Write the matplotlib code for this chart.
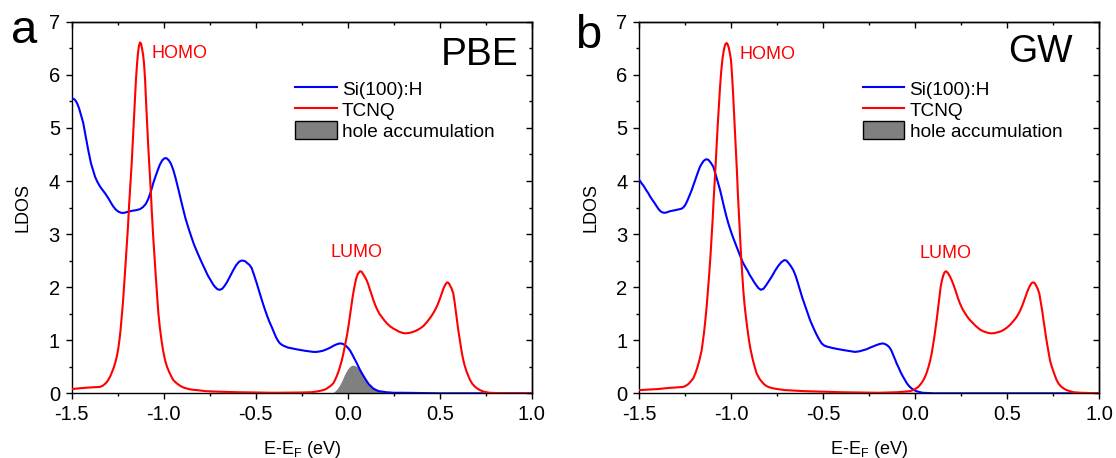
import matplotlib
matplotlib.use("Agg")
import matplotlib.pyplot as plt
from matplotlib.ticker import MultipleLocator
from matplotlib.lines import Line2D
from matplotlib.patches import Patch

plt.rcParams['font.family'] = ['Liberation Sans', 'DejaVu Sans']
plt.rcParams['mathtext.default'] = 'regular'

# ---- Panel a: PBE ----
pbe_si_x = [-1.500, -1.490, -1.480, -1.470, -1.460, -1.450, -1.437, -1.425, -1.410, -1.395,
            -1.380, -1.373, -1.360, -1.345, -1.330, -1.319, -1.300, -1.285, -1.274, -1.260,
            -1.245, -1.230, -1.215, -1.195, -1.170, -1.150, -1.129, -1.112, -1.097, -1.084,
            -1.070, -1.055, -1.038, -1.022, -1.008, -0.995, -0.985, -0.972, -0.960, -0.948,
            -0.935, -0.920, -0.900, -0.882, -0.866, -0.850, -0.835, -0.818, -0.803, -0.790,
            -0.775, -0.760, -0.748, -0.733, -0.720, -0.707, -0.694, -0.682, -0.670, -0.655,
            -0.640, -0.622, -0.605, -0.590, -0.578, -0.571, -0.558, -0.545, -0.534, -0.522,
            -0.508, -0.495, -0.481, -0.467, -0.453, -0.440, -0.427, -0.413, -0.401, -0.390,
            -0.379, -0.368, -0.356, -0.345, -0.334, -0.323, -0.300, -0.280, -0.255, -0.230,
            -0.208, -0.187, -0.168, -0.150, -0.132, -0.114, -0.095, -0.075, -0.058, -0.042,
            -0.030, -0.020, -0.008, 0.003, 0.014, 0.025, 0.037, 0.049, 0.060, 0.070,
            0.082, 0.094, 0.105, 0.115, 0.127, 0.139, 0.155, 0.170, 0.190, 0.210,
            0.250, 0.300, 0.500, 1.000]
pbe_si_y = [5.55, 5.55, 5.52, 5.46, 5.37, 5.25, 5.09, 4.86, 4.58, 4.33,
            4.16, 4.08, 3.98, 3.89, 3.82, 3.77, 3.67, 3.58, 3.52, 3.46,
            3.42, 3.40, 3.40, 3.42, 3.44, 3.45, 3.47, 3.51, 3.57, 3.66,
            3.80, 3.98, 4.15, 4.30, 4.39, 4.43, 4.43, 4.39, 4.32, 4.21,
            4.05, 3.84, 3.55, 3.30, 3.12, 2.95, 2.80, 2.66, 2.54, 2.44,
            2.33, 2.22, 2.15, 2.06, 2.00, 1.96, 1.95, 1.97, 2.02, 2.10,
            2.20, 2.32, 2.42, 2.48, 2.50, 2.50, 2.49, 2.45, 2.42, 2.36,
            2.22, 2.08, 1.92, 1.76, 1.61, 1.48, 1.36, 1.25, 1.15, 1.06,
            0.99, 0.94, 0.91, 0.89, 0.875, 0.86, 0.845, 0.83, 0.815, 0.80,
            0.79, 0.78, 0.78, 0.79, 0.805, 0.83, 0.86, 0.90, 0.925, 0.94,
            0.935, 0.92, 0.89, 0.85, 0.80, 0.73, 0.65, 0.57, 0.49, 0.42,
            0.35, 0.28, 0.22, 0.17, 0.13, 0.09, 0.06, 0.04, 0.03, 0.02,
            0.01, 0.01, 0.00, 0.00]

pbe_tcnq_x = [-1.500, -1.470, -1.440, -1.400, -1.370, -1.346, -1.330, -1.315, -1.303, -1.292,
              -1.282, -1.272, -1.263, -1.255, -1.247, -1.240, -1.234, -1.228, -1.221, -1.215,
              -1.208, -1.201, -1.194, -1.188, -1.181, -1.174, -1.168, -1.162, -1.156, -1.151,
              -1.145, -1.140, -1.135, -1.129, -1.123, -1.118, -1.112, -1.107, -1.101, -1.096,
              -1.090, -1.084, -1.077, -1.070, -1.064, -1.057, -1.050, -1.043, -1.036, -1.029,
              -1.021, -1.012, -1.003, -0.993, -0.982, -0.970, -0.959, -0.948, -0.930, -0.910,
              -0.893, -0.875, -0.850, -0.820, -0.770, -0.700, -0.600, -0.400, -0.250, -0.200,
              -0.165, -0.133, -0.118, -0.105, -0.091, -0.078, -0.069, -0.060, -0.051, -0.042,
              -0.032, -0.023, -0.014, -0.005, 0.004, 0.012, 0.020, 0.027, 0.036, 0.045,
              0.055, 0.067, 0.076, 0.085, 0.094, 0.103, 0.112, 0.120, 0.130, 0.139,
              0.150, 0.160, 0.172, 0.185, 0.200, 0.215, 0.231, 0.248, 0.264, 0.280,
              0.296, 0.311, 0.330, 0.350, 0.372, 0.393, 0.412, 0.430, 0.448, 0.465,
              0.478, 0.490, 0.501, 0.511, 0.520, 0.528, 0.535, 0.541, 0.548, 0.555,
              0.565, 0.574, 0.581, 0.588, 0.594, 0.601, 0.608, 0.615, 0.621, 0.628,
              0.636, 0.645, 0.655, 0.665, 0.677, 0.690, 0.704, 0.719, 0.740, 0.770,
              0.850, 1.000]
pbe_tcnq_y = [0.08, 0.09, 0.10, 0.11, 0.115, 0.12, 0.145, 0.19, 0.24, 0.31,
              0.39, 0.48, 0.58, 0.69, 0.84, 1.02, 1.21, 1.44, 1.73, 2.05,
              2.40, 2.76, 3.15, 3.55, 3.94, 4.33, 4.75, 5.15, 5.55, 5.90,
              6.20, 6.40, 6.54, 6.61, 6.59, 6.50, 6.38, 6.22, 5.90, 5.50,
              5.08, 4.65, 4.22, 3.80, 3.38, 2.95, 2.56, 2.20, 1.84, 1.51,
              1.24, 1.00, 0.80, 0.63, 0.50, 0.40, 0.32, 0.25, 0.19, 0.14,
              0.11, 0.09, 0.07, 0.06, 0.04, 0.03, 0.02, 0.01, 0.015, 0.02,
              0.035, 0.06, 0.08, 0.11, 0.145, 0.19, 0.25, 0.32, 0.40, 0.50,
              0.62, 0.76, 0.91, 1.07, 1.26, 1.45, 1.64, 1.82, 2.00, 2.15,
              2.25, 2.30, 2.29, 2.24, 2.19, 2.13, 2.05, 1.96, 1.86, 1.76,
              1.66, 1.58, 1.50, 1.44, 1.37, 1.31, 1.26, 1.22, 1.19, 1.16,
              1.14, 1.13, 1.135, 1.15, 1.18, 1.22, 1.27, 1.34, 1.42, 1.51,
              1.59, 1.68, 1.78, 1.88, 1.97, 2.03, 2.07, 2.09, 2.08, 2.04,
              1.97, 1.88, 1.72, 1.53, 1.36, 1.19, 1.03, 0.88, 0.75, 0.63,
              0.52, 0.42, 0.33, 0.25, 0.18, 0.13, 0.09, 0.06, 0.03, 0.01,
              0.00, 0.00]

pbe_hole_x = [-0.090, -0.080, -0.070, -0.060, -0.050, -0.040, -0.030, -0.020, -0.010, 0.000,
              0.010, 0.020, 0.031, 0.040, 0.050, 0.060, 0.070, 0.082, 0.094, 0.105,
              0.115, 0.127, 0.139, 0.155, 0.170, 0.190, 0.210, 0.250]
pbe_hole_y = [0.00, 0.015, 0.04, 0.075, 0.12, 0.18, 0.25, 0.33, 0.40, 0.46,
              0.50, 0.525, 0.53, 0.52, 0.50, 0.47, 0.42, 0.35, 0.28, 0.22,
              0.17, 0.13, 0.09, 0.06, 0.04, 0.025, 0.01, 0.00]

# ---- Panel b: GW ----
gw_si_x = [-1.500, -1.488, -1.475, -1.463, -1.451, -1.440, -1.428, -1.416, -1.405, -1.395,
           -1.385, -1.375, -1.364, -1.350, -1.335, -1.320, -1.306, -1.293, -1.280, -1.270,
           -1.261, -1.250, -1.240, -1.228, -1.215, -1.202, -1.190, -1.180, -1.170, -1.160,
           -1.150, -1.142, -1.134, -1.125, -1.115, -1.107, -1.098, -1.089, -1.080, -1.070,
           -1.061, -1.050, -1.040, -1.028, -1.016, -1.004, -0.993, -0.982, -0.971, -0.962,
           -0.953, -0.944, -0.935, -0.922, -0.910, -0.900, -0.889, -0.877, -0.865, -0.852,
           -0.839, -0.825, -0.810, -0.795, -0.780, -0.762, -0.745, -0.728, -0.712, -0.700,
           -0.690, -0.677, -0.663, -0.651, -0.640, -0.627, -0.614, -0.600, -0.586, -0.572,
           -0.556, -0.540, -0.525, -0.509, -0.495, -0.480, -0.463, -0.446, -0.423, -0.400,
           -0.365, -0.328, -0.305, -0.285, -0.265, -0.246, -0.228, -0.210, -0.193, -0.177,
           -0.166, -0.155, -0.146, -0.137, -0.128, -0.120, -0.110, -0.101, -0.090, -0.080,
           -0.068, -0.056, -0.046, -0.035, -0.023, -0.011, 0.002, 0.015, 0.040, 0.100,
           1.000]
gw_si_y = [4.02, 3.96, 3.90, 3.83, 3.77, 3.70, 3.64, 3.58, 3.52, 3.47,
           3.43, 3.41, 3.40, 3.41, 3.43, 3.44, 3.45, 3.46, 3.47, 3.48,
           3.50, 3.55, 3.62, 3.72, 3.83, 3.96, 4.08, 4.18, 4.27, 4.33,
           4.38, 4.40, 4.41, 4.40, 4.36, 4.32, 4.27, 4.17, 4.06, 3.94,
           3.83, 3.67, 3.52, 3.35, 3.20, 3.07, 2.96, 2.86, 2.76, 2.68,
           2.60, 2.52, 2.45, 2.37, 2.30, 2.23, 2.17, 2.10, 2.04, 1.98,
           1.95, 1.97, 2.04, 2.12, 2.20, 2.31, 2.40, 2.47, 2.51, 2.50,
           2.46, 2.40, 2.32, 2.22, 2.10, 1.95, 1.80, 1.66, 1.52, 1.38,
           1.25, 1.13, 1.03, 0.94, 0.90, 0.88, 0.865, 0.85, 0.835, 0.82,
           0.80, 0.78, 0.79, 0.81, 0.83, 0.86, 0.885, 0.91, 0.93, 0.94,
           0.93, 0.91, 0.885, 0.85, 0.79, 0.72, 0.64, 0.56, 0.48, 0.40,
           0.32, 0.25, 0.19, 0.14, 0.10, 0.07, 0.045, 0.03, 0.01, 0.00,
           0.00]

gw_tcnq_x = [-1.500, -1.450, -1.400, -1.370, -1.342, -1.300, -1.261, -1.248, -1.235, -1.221,
             -1.207, -1.196, -1.185, -1.173, -1.161, -1.155, -1.148, -1.141, -1.134, -1.127,
             -1.120, -1.113, -1.107, -1.101, -1.096, -1.090, -1.085, -1.079, -1.073, -1.067,
             -1.061, -1.055, -1.048, -1.041, -1.035, -1.030, -1.025, -1.019, -1.013, -1.008,
             -1.002, -0.997, -0.991, -0.986, -0.980, -0.975, -0.969, -0.964, -0.958, -0.953,
             -0.947, -0.941, -0.935, -0.928, -0.920, -0.912, -0.904, -0.895, -0.885, -0.874,
             -0.862, -0.846, -0.830, -0.815, -0.799, -0.775, -0.750, -0.708, -0.650, -0.600,
             -0.500, -0.400, -0.300, -0.200, -0.100, -0.060, -0.029, -0.017, -0.005, 0.006,
             0.016, 0.026, 0.035, 0.044, 0.053, 0.063, 0.072, 0.081, 0.089, 0.096,
             0.103, 0.110, 0.116, 0.122, 0.128, 0.133, 0.138, 0.145, 0.152, 0.159,
             0.167, 0.174, 0.182, 0.190, 0.198, 0.209, 0.220, 0.231, 0.243, 0.256,
             0.270, 0.283, 0.297, 0.311, 0.325, 0.338, 0.352, 0.368, 0.385, 0.400,
             0.415, 0.432, 0.448, 0.463, 0.478, 0.497, 0.515, 0.533, 0.551, 0.566,
             0.580, 0.593, 0.605, 0.615, 0.625, 0.633, 0.641, 0.648, 0.655, 0.665,
             0.674, 0.682, 0.690, 0.697, 0.705, 0.711, 0.718, 0.725, 0.732, 0.741,
             0.750, 0.759, 0.768, 0.781, 0.795, 0.809, 0.823, 0.840, 0.860, 0.900,
             1.000]
gw_tcnq_y = [0.06, 0.07, 0.08, 0.09, 0.10, 0.11, 0.12, 0.14, 0.17, 0.22,
             0.28, 0.37, 0.48, 0.63, 0.81, 0.96, 1.15, 1.38, 1.63, 1.93,
             2.25, 2.60, 2.95, 3.30, 3.65, 4.00, 4.33, 4.72, 5.10, 5.45,
             5.78, 6.06, 6.30, 6.46, 6.55, 6.59, 6.60, 6.57, 6.50, 6.41,
             6.29, 6.05, 5.70, 5.35, 4.97, 4.56, 4.15, 3.74, 3.33, 2.96,
             2.60, 2.26, 1.95, 1.67, 1.42, 1.20, 1.00, 0.82, 0.66, 0.51,
             0.37, 0.27, 0.20, 0.15, 0.12, 0.095, 0.08, 0.06, 0.05, 0.04,
             0.03, 0.02, 0.015, 0.01, 0.02, 0.03, 0.04, 0.055, 0.07, 0.095,
             0.12, 0.16, 0.20, 0.25, 0.31, 0.40, 0.50, 0.62, 0.75, 0.90,
             1.05, 1.22, 1.38, 1.55, 1.72, 1.87, 2.01, 2.13, 2.22, 2.28,
             2.30, 2.28, 2.24, 2.19, 2.13, 2.03, 1.92, 1.80, 1.69, 1.59,
             1.51, 1.44, 1.38, 1.33, 1.28, 1.24, 1.20, 1.17, 1.15, 1.135,
             1.13, 1.135, 1.15, 1.165, 1.19, 1.235, 1.29, 1.36, 1.44, 1.53,
             1.64, 1.76, 1.88, 1.97, 2.04, 2.08, 2.09, 2.08, 2.04, 1.97,
             1.88, 1.72, 1.55, 1.37, 1.19, 1.04, 0.90, 0.75, 0.62, 0.51,
             0.42, 0.33, 0.25, 0.17, 0.12, 0.085, 0.06, 0.04, 0.02, 0.01,
             0.00]

gw_hole_x = [-0.200, -0.150, -0.100, -0.050, -0.010, 0.020, 0.050]
gw_hole_y = [0.00, 0.01, 0.02, 0.02, 0.02, 0.01, 0.00]

legend_labels = ['Si(100):H', 'TCNQ', 'hole accumulation']
x_ticks = [-1.5, -1.0, -0.5, 0.0, 0.5, 1.0]
y_ticks = [0, 1, 2, 3, 4, 5, 6, 7]

W, H = 1116, 458
fig = plt.figure(figsize=(W / 100, H / 100), dpi=100)


def panel(left_px, si, tcnq, hole, method, method_xy, homo_xy, lumo_xy, method_size):
    ax = fig.add_axes([left_px / W, 1 - 393.3 / H, 460 / W, 371.5 / H])
    ax.fill_between(hole[0], 0, hole[1], color='#808080', linewidth=0, zorder=1)
    ax.plot(si[0], si[1], color='#0000ff', lw=1.5, zorder=3)
    ax.plot(tcnq[0], tcnq[1], color='#ff0000', lw=1.5, zorder=4)
    ax.set_xlim(-1.5, 1.0)
    ax.set_ylim(0, 7)
    ax.set_xticks(x_ticks)
    ax.set_xticklabels([f'{v:.1f}' for v in x_ticks])
    ax.set_yticks(y_ticks)
    ax.xaxis.set_minor_locator(MultipleLocator(0.25))
    ax.yaxis.set_minor_locator(MultipleLocator(0.5))
    ax.tick_params(which='both', direction='out', width=1.0, labelsize=14.5, pad=4)
    ax.tick_params(which='major', length=4.5)
    ax.tick_params(which='minor', length=2.5)
    for sp in ax.spines.values():
        sp.set_linewidth(1.0)

    top = ax.secondary_xaxis('top')
    top.set_xticks(x_ticks)
    top.xaxis.set_minor_locator(MultipleLocator(0.25))
    top.tick_params(which='both', direction='in', labeltop=False, width=1.0)
    top.tick_params(which='major', length=4.5)
    top.tick_params(which='minor', length=2.5)
    right = ax.secondary_yaxis('right')
    right.set_yticks(y_ticks)
    right.yaxis.set_minor_locator(MultipleLocator(0.5))
    right.tick_params(which='both', direction='in', labelright=False, width=1.0)
    right.tick_params(which='major', length=4.5)
    right.tick_params(which='minor', length=2.5)
    for sec in (top, right):
        for sp in sec.spines.values():
            sp.set_linewidth(1.0)

    ax.set_xlabel('E-E$_F$ (eV)', fontsize=13, labelpad=10.5)
    ax.set_ylabel('LDOS', fontsize=13, labelpad=12)

    ax.text(homo_xy[0], homo_xy[1], 'HOMO', color='#ff0000', fontsize=13,
            ha='left', va='baseline')
    ax.text(lumo_xy[0], lumo_xy[1], 'LUMO', color='#ff0000', fontsize=13,
            ha='left', va='baseline')
    ax.text(method_xy[0], method_xy[1], method, fontsize=method_size,
            ha='right', va='baseline')

    handles = [Line2D([], [], color='#0000ff', lw=1.5),
               Line2D([], [], color='#ff0000', lw=1.5),
               Patch(facecolor='#808080', edgecolor='black', linewidth=1.0)]
    ax.legend(handles, legend_labels, loc='upper left', bbox_to_anchor=(0.4854, 0.845),
              frameon=False, fontsize=13.7, handlelength=2.2, handleheight=1.05,
              handletextpad=0.27, labelspacing=0.09, borderpad=0, borderaxespad=0)
    return ax


panel(71.7, (pbe_si_x, pbe_si_y), (pbe_tcnq_x, pbe_tcnq_y), (pbe_hole_x, pbe_hole_y),
      'PBE', (0.926, 6.18), (-1.065, 6.31), (-0.096, 2.56), 28)
panel(639.3, (gw_si_x, gw_si_y), (gw_tcnq_x, gw_tcnq_y), (gw_hole_x, gw_hole_y),
      'GW', (0.854, 6.25), (-0.954, 6.30), (0.022, 2.54), 27)

fig.text(11 / W, 1 - 43.3 / H, 'a', fontsize=34, ha='left', va='baseline')
fig.text(575 / W, 1 - 48.3 / H, 'b', fontsize=34, ha='left', va='baseline')

fig.savefig('out.png', dpi=100)
